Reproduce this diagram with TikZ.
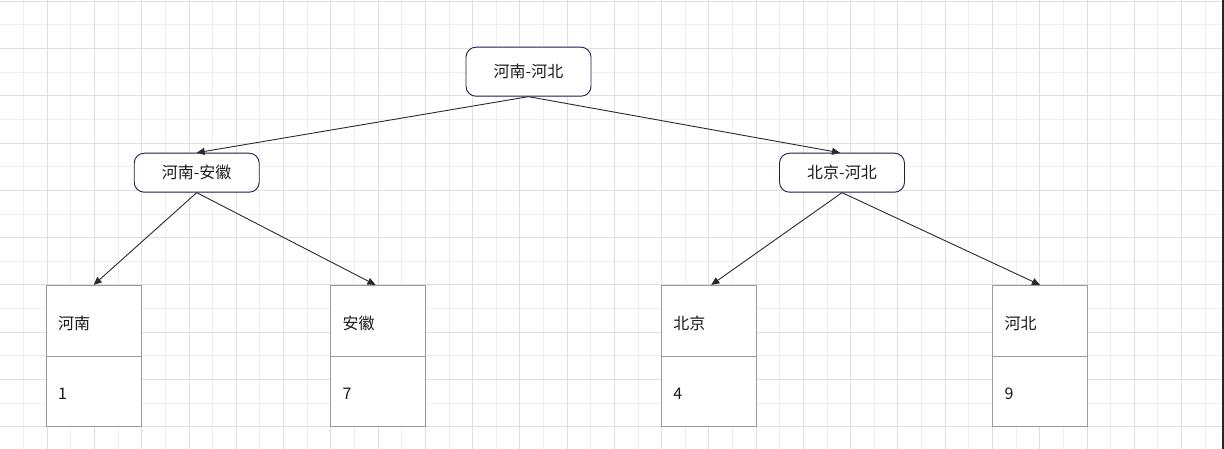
\documentclass[tikz,border=0pt]{standalone}
\usepackage{fontspec}
\setmainfont{Noto Sans CJK SC}
\usetikzlibrary{arrows.meta}
\definecolor{gridlight}{HTML}{EFEFEF}
\definecolor{griddark}{HTML}{DFDFDF}
\definecolor{navyb}{HTML}{1E1E4C}
\definecolor{leafb}{HTML}{9A9A9A}
\definecolor{linec}{HTML}{2A2A2A}
\definecolor{txt}{HTML}{1A1A1A}
\newcommand{\lowtext}[1]{\raisebox{-8.3pt}[0pt][0pt]{#1}}
\tikzset{
  innerbox/.style={draw=navyb, line width=0.9pt, rounded corners=10pt, fill=white,
    minimum width=125pt, minimum height=39pt, inner sep=0pt, text=txt,
    font=\fontsize{16}{18}\selectfont},
  leafbox/.style={draw=leafb, line width=0.9pt, fill=white, minimum width=95pt,
    minimum height=70.7pt, text width=71pt, align=left, inner xsep=12pt, inner ysep=0pt,
    text=txt, font=\fontsize{16}{18}\selectfont},
  conn/.style={draw=linec, line width=0.9pt, -{Triangle[length=8pt,width=7pt]}}
}
\begin{document}
\begin{tikzpicture}[x=1pt,y=-1pt]
\useasboundingbox (0,0) rectangle (1224,449);
\fill[white] (0,0) rectangle (1224,449);
% grid
\foreach \k in {1,3,...,51}{
  \draw[gridlight, line width=0.9pt] ({23.63*\k},0) -- ({23.63*\k},449);
}
\foreach \k in {1,3,...,17}{
  \draw[gridlight, line width=0.9pt] (0,{1.3+23.63*\k}) -- (1224,{1.3+23.63*\k});
}
\foreach \k in {2,4,...,50}{
  \draw[griddark, line width=0.9pt] ({23.63*\k},0) -- ({23.63*\k},449);
}
\foreach \k in {0,2,...,18}{
  \draw[griddark, line width=0.9pt] (0,{1.3+23.63*\k}) -- (1224,{1.3+23.63*\k});
}
\fill[black!85] (1222,0) rectangle (1224,449);
% inner nodes
\node[innerbox, minimum height=49pt] (root) at (528.5,71.7) {河南-河北};
\node[innerbox] (ha) at (196.7,172.7) {河南-安徽};
\node[innerbox] (bh) at (842,172.7) {北京-河北};
% leaves
\node[leafbox] (hn) at (93.7,320.7) {\lowtext{河南}};
\node[leafbox] (hnv) at (93.7,391.3) {\lowtext{1}};
\node[leafbox] (ah) at (378,320.7) {\lowtext{安徽}};
\node[leafbox] (ahv) at (378,391.3) {\lowtext{7}};
\node[leafbox] (bj) at (708.8,320.7) {\lowtext{北京}};
\node[leafbox] (bjv) at (708.8,391.3) {\lowtext{4}};
\node[leafbox] (hb) at (1040,320.7) {\lowtext{河北}};
\node[leafbox] (hbv) at (1040,391.3) {\lowtext{9}};
% connectors
\draw[conn] (root.south) -- (ha.north);
\draw[conn] (root.south) -- ([xshift=-2pt]bh.north);
\draw[conn] (ha.south) -- (hn.north);
\draw[conn] (ha.south) -- ([xshift=-2.5pt]ah.north);
\draw[conn] (bh.south) -- ([xshift=2.5pt]bj.north);
\draw[conn] (bh.south) -- (hb.north);
\end{tikzpicture}
\end{document}
